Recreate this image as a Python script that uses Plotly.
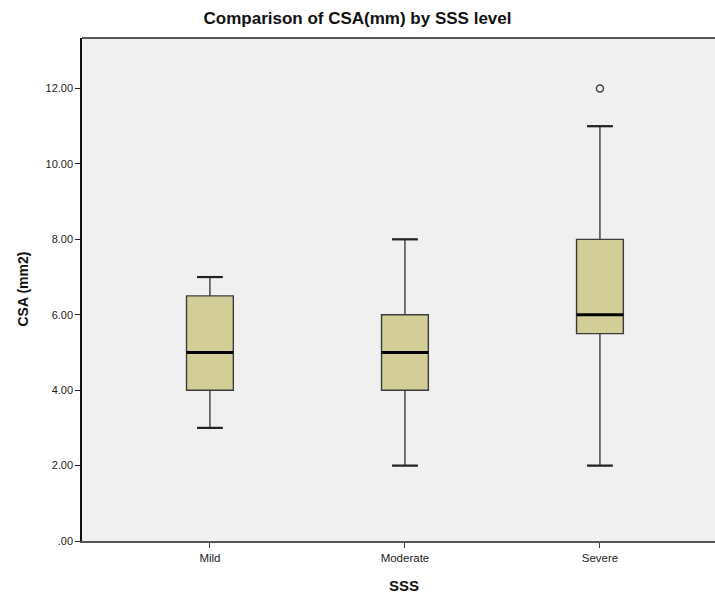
import plotly.graph_objects as go

# SSS level groups and CSA summary statistics (mm2)
groups = ["Mild", "Moderate", "Severe"]
lower_whisker = [3.0, 2.0, 2.0]
q1_values = [4.0, 4.0, 5.5]
medians = [5.0, 5.0, 6.0]
q3_values = [6.5, 6.0, 8.0]
upper_whisker = [7.0, 8.0, 11.0]

# Outlying observations
outlier_group = ["Severe"]
outlier_values = [12.0]

y_ticks = [0, 2, 4, 6, 8, 10, 12]
y_tick_labels = [".00", "2.00", "4.00", "6.00", "8.00", "10.00", "12.00"]

BOX_FILL = "#D3CE98"
BOX_LINE = "#3c3c3c"
FONT = "Liberation Sans, Arial, sans-serif"
BOX_WIDTH = 0.24
CAP_HALF = 0.066

xpos = list(range(len(groups)))

fig = go.Figure()

fig.add_trace(go.Box(
    x=xpos,
    q1=q1_values,
    median=medians,
    q3=q3_values,
    lowerfence=lower_whisker,
    upperfence=upper_whisker,
    width=BOX_WIDTH,
    whiskerwidth=0.53,
    fillcolor=BOX_FILL,
    line=dict(color=BOX_LINE, width=1.4),
    boxpoints=False,
    hoverinfo="skip",
    showlegend=False,
))

# Heavier whisker caps
for i in xpos:
    for v in (lower_whisker[i], upper_whisker[i]):
        fig.add_trace(go.Scatter(
            x=[i - CAP_HALF, i + CAP_HALF],
            y=[v, v],
            mode="lines",
            line=dict(color="#222222", width=2.2),
            hoverinfo="skip",
            showlegend=False,
        ))

# Thick median bars drawn over each box
for i, m in enumerate(medians):
    fig.add_trace(go.Scatter(
        x=[xpos[i] - BOX_WIDTH / 2, xpos[i] + BOX_WIDTH / 2],
        y=[m, m],
        mode="lines",
        line=dict(color="#000000", width=3),
        hoverinfo="skip",
        showlegend=False,
    ))

# Outliers as open circles
fig.add_trace(go.Scatter(
    x=[groups.index(g) for g in outlier_group],
    y=outlier_values,
    mode="markers",
    marker=dict(symbol="circle-open", size=7, color="#444444",
                line=dict(width=1.5, color="#444444")),
    hoverinfo="skip",
    showlegend=False,
))

fig.update_layout(
    width=715,
    height=598,
    margin=dict(l=82, r=0, t=38, b=57),
    paper_bgcolor="white",
    plot_bgcolor="#F0F0F0",
    font=dict(family=FONT, size=11, color="#222222"),
    title=dict(
        text="<b>Comparison of CSA(mm) by SSS level</b>",
        x=0.5, xanchor="center", xref="container",
        y=1 - 18 / 598, yanchor="middle", yref="container",
        font=dict(family=FONT, size=17, color="#111111"),
    ),
    xaxis=dict(
        range=[-0.656, 2.59],
        tickmode="array",
        tickvals=xpos,
        ticktext=groups,
        ticks="outside",
        ticklen=5,
        tickcolor="#444444",
        showgrid=False,
        zeroline=False,
        showline=True,
        linecolor="#555555",
        linewidth=1.5,
        tickfont=dict(family=FONT, size=11.5, color="#222222"),
    ),
    yaxis=dict(
        range=[0, 13.34],
        tickmode="array",
        tickvals=y_ticks,
        ticktext=y_tick_labels,
        ticks="outside",
        ticklen=5,
        tickcolor="#222222",
        showgrid=False,
        zeroline=False,
        showline=True,
        linecolor="#111111",
        linewidth=1.5,
        tickfont=dict(family=FONT, size=11, color="#222222"),
    ),
    shapes=[
        dict(type="line", xref="paper", yref="paper", x0=0, x1=1, y0=1, y1=1,
             line=dict(color="#555555", width=1.8)),
    ],
    annotations=[
        dict(text="<b>CSA (mm2)</b>", xref="paper", yref="paper",
             x=-82 / 633 + 22 / 633, y=0.5, xanchor="center", yanchor="middle",
             textangle=-90, showarrow=False,
             font=dict(family=FONT, size=14, color="#111111")),
        dict(text="<b>SSS</b>", xref="paper", yref="paper",
             x=(404 - 82) / 633, y=-(585 - 541) / 503, xanchor="center", yanchor="middle",
             showarrow=False,
             font=dict(family=FONT, size=15, color="#111111")),
    ],
)

fig.write_html("out.html")
